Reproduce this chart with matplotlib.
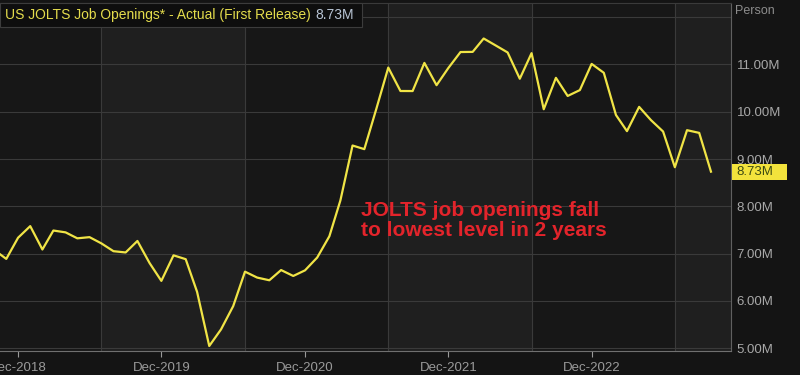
import matplotlib
matplotlib.use('Agg')
import matplotlib.pyplot as plt
import matplotlib.dates as mdates
import matplotlib.transforms as mtransforms
from matplotlib.patches import Rectangle
import pandas as pd

# monthly job openings, millions (first release), Sep-2018 .. Oct-2023
start = '2018-09-01'
openings = [7.136, 7.079, 6.888, 7.335,
            7.581, 7.087, 7.488, 7.449, 7.323, 7.348, 7.217, 7.051, 7.024, 7.267, 6.800, 6.423,
            6.963, 6.882, 6.191, 5.046, 5.397, 5.889, 6.618, 6.493, 6.436, 6.652, 6.527, 6.646,
            6.917, 7.367, 8.123, 9.286, 9.209, 10.073, 10.934, 10.439, 10.438, 11.033, 10.562, 10.925,
            11.263, 11.266, 11.549, 11.400, 11.254, 10.698, 11.239, 10.053, 10.717, 10.334, 10.458, 11.012,
            10.824, 9.931, 9.590, 10.103, 9.824, 9.582, 8.827, 9.610, 9.553, 8.733]
months = pd.date_range(start, periods=len(openings), freq='MS')

tick_dates = pd.to_datetime(['2018-12-01', '2019-12-01', '2020-12-01', '2021-12-01', '2022-12-01'])
grid_dates = pd.to_datetime(['2019-07-01', '2020-07-01', '2021-07-01', '2022-07-01', '2023-07-01'])
y_ticks = [5, 6, 7, 8, 9, 10, 11, 12]
last_value = openings[-1]

W, H = 800, 375
fig = plt.figure(figsize=(8, 3.75), dpi=100, facecolor='#141414')
ax = fig.add_axes([0, 24 / H, 731 / W, 348 / H])
ax.set_facecolor('#171717')

x_left = pd.Timestamp('2018-10-16')
x_right = pd.Timestamp('2023-11-21')

# alternating shaded bands
ax.axvspan(grid_dates[0], grid_dates[1], color='#1f1f1f', zorder=0)
ax.axvspan(grid_dates[2], grid_dates[3], color='#1f1f1f', zorder=0)
ax.axvspan(grid_dates[4], x_right, color='#1f1f1f', zorder=0)

for g in grid_dates:
    ax.axvline(g, color='#3a3a3a', lw=0.8, zorder=1)
for yv in y_ticks:
    ax.axhline(yv, color='#3a3a3a', lw=0.8, zorder=1)

ax.plot(months, openings, color='#f0e446', lw=1.6, zorder=3)

ax.set_xlim(x_left, x_right)
ax.set_ylim(4.94, 12.3)

ax.set_xticks(tick_dates)
ax.xaxis.set_major_formatter(mdates.DateFormatter('%b-%Y'))
ax.tick_params(axis='x', colors='#9a9a9a', labelsize=9.5, length=4, width=0.8, direction='out', pad=4)
ax.yaxis.tick_right()
ax.set_yticks(y_ticks[:-1])
ax.set_yticklabels([f'{v:.2f}M' for v in y_ticks[:-1]])
ax.tick_params(axis='y', colors='#a8a8a8', labelsize=9.5, length=0, pad=4)
for lab in ax.get_xticklabels() + ax.get_yticklabels():
    lab.set_fontfamily('Liberation Sans')

ax.spines['left'].set_visible(False)
ax.spines['right'].set_color('#606060')
ax.spines['bottom'].set_color('#707070')
ax.spines['top'].set_color('#3a3a3a')

# last value tag on the axis
trans = mtransforms.blended_transform_factory(ax.transAxes, ax.transData)
ax.add_patch(Rectangle((1.002, last_value - 0.17), 0.075, 0.34, transform=trans,
                       facecolor='#f3e33c', edgecolor='none', clip_on=False, zorder=5))
ax.text(1.008, last_value, f'{last_value:.2f}M', transform=trans, va='center', ha='left',
        color='#3c4a12', fontsize=9.5, family='Liberation Sans', zorder=6, clip_on=False)

fig.text(735 / W, 1 - 11 / H, 'Person', color='#8c8c8c', fontsize=9,
         family='Liberation Sans', va='center', ha='left')

# title box
fig.patches.append(Rectangle((0, 1 - 27 / H), 362 / W, 24 / H, transform=fig.transFigure,
                             facecolor='#0e0e0e', edgecolor='#3c3c3c', lw=0.8, zorder=4))
t1 = fig.text(5 / W, 1 - 15 / H, 'US JOLTS Job Openings* - Actual (First Release)',
              color='#e4dc4c', fontsize=10, family='Liberation Sans', va='center', ha='left', zorder=5)
renderer = fig.canvas.get_renderer()
bb = t1.get_window_extent(renderer)
fig.text((bb.x1 + 5) / W, 1 - 15 / H, f'{last_value:.2f}M',
         color='#b8c4d4', fontsize=10, family='Liberation Sans', va='center', ha='left', zorder=5)

fig.text(361 / W, 1 - 236 / H, 'JOLTS job openings fall\nto lowest level in 2 years',
         color='#e3242b', fontsize=15, fontweight='bold', family='Liberation Sans',
         va='baseline', ha='left', linespacing=1.1)

fig.savefig('out.png', dpi=100, facecolor=fig.get_facecolor())
